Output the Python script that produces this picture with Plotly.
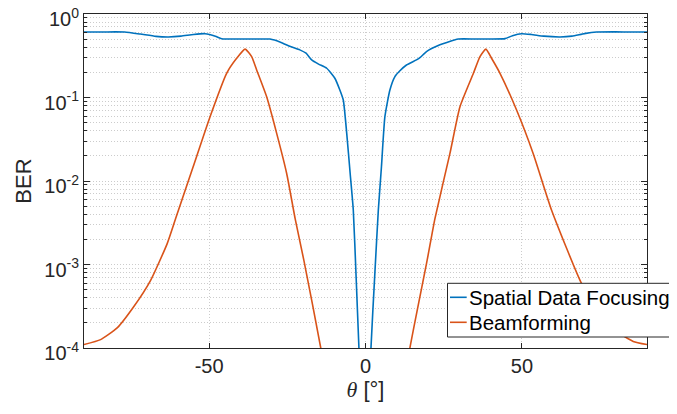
import plotly.graph_objects as go

# ---------------- data ----------------
sdf_theta = [-90, -85, -80, -77, -72, -67, -63, -59, -55, -51.3, -48, -46, -40, -35, -30.5,
             -27, -24, -21, -19, -17.2, -15, -12.4, -9.8, -8.2, -7.1, -6.0, -4.9, -3.9, -3.0,
             -2.1, -1, 0, 1, 1.75, 3.0, 4.1, 5.1, 6.2, 7.8, 9.4, 11, 13.1, 16.3, 17.5, 19.5,
             23.8, 26, 29.7, 35, 40, 44.6, 47, 49.9, 53, 57, 62.2, 66, 70, 73.9, 80, 85, 90]
sdf_ber = [0.608, 0.608, 0.611, 0.608, 0.575, 0.540, 0.531, 0.543, 0.569, 0.581, 0.543, 0.506,
           0.501, 0.501, 0.501, 0.457, 0.407, 0.372, 0.339, 0.282, 0.251, 0.224, 0.170, 0.123,
           0.0933, 0.0372, 0.0123, 0.00447, 0.000708, 1.0e-4, 1.0e-5, 1.0e-6, 1.0e-5, 1.0e-4,
           0.000794, 0.00447, 0.0148, 0.0589, 0.123, 0.178, 0.209, 0.245, 0.282, 0.302, 0.355,
           0.427, 0.457, 0.501, 0.501, 0.501, 0.507, 0.550, 0.581, 0.569, 0.543, 0.531, 0.543,
           0.582, 0.608, 0.611, 0.608, 0.608]

bf_theta = [-90, -84.7, -79.4, -74.0, -68.7, -63.4, -60.7, -55.1, -49.7, -44.4, -41.2, -38.5,
            -36.4, -34.8, -31.6, -28.4, -25.2, -22.5, -19.7, -14.3, -10, 0, 10, 14.2, 19.7,
            22.2, 27.0, 30.2, 34.5, 36.6, 38.5, 40.3, 43.0, 48.3, 53.6, 59.5, 69.1, 75.0, 80.3,
            85.6, 90]
bf_ber = [1.10e-4, 1.26e-4, 1.74e-4, 3.16e-4, 6.46e-4, 1.78e-3, 3.55e-3, 0.0148, 0.0589, 0.195,
          0.295, 0.380, 0.309, 0.214, 0.102, 0.0372, 0.0123, 3.55e-3, 1.12e-3, 1.0e-4, 1.0e-5,
          1.0e-7, 1.0e-5, 1.0e-4, 1.12e-3, 3.55e-3, 0.0214, 0.0776, 0.195, 0.309, 0.380, 0.295,
          0.195, 0.0708, 0.0214, 4.47e-3, 5.89e-4, 2.63e-4, 1.58e-4, 1.20e-4, 1.10e-4]

series_names = ["Spatial Data Focusing", "Beamforming"]
x_ticks = [-50, 0, 50]
x_ticklabels = ["-50", "0", "50"]
y_ticks = [1e-4, 1e-3, 1e-2, 1e-1, 1]
y_ticklabels = ["10<sup>-4</sup>", "10<sup>-3</sup>", "10<sup>-2</sup>", "10<sup>-1</sup>", "10<sup>0</sup>"]

# ---------------- styles ----------------
BLUE = "#0072BD"
ORANGE = "#D95319"
AX = "#262626"
GRID = "#cccccc"
FONT = "Liberation Sans, Arial, Helvetica, sans-serif"

# The page body adds an 8 px offset, so the figure's own margins are reduced by 8 px.
OFF = 8
PL, PR, PT, PB = 84 - OFF, 647 - OFF, 14 - OFF, 348 - OFF   # plot-area edges in figure px
W, H = 677, 414

minor_y = [m * 10.0 ** e for e in range(-4, 0) for m in range(2, 10)]

fig = go.Figure()
fig.add_trace(go.Scatter(x=sdf_theta, y=sdf_ber, mode="lines", name=series_names[0],
                         line=dict(color=BLUE, width=1.6, shape="spline", smoothing=0.5),
                         showlegend=False))
fig.add_trace(go.Scatter(x=bf_theta, y=bf_ber, mode="lines", name=series_names[1],
                         line=dict(color=ORANGE, width=1.6, shape="spline", smoothing=0.5),
                         showlegend=False))

fig.update_layout(
    width=W, height=H,
    margin=dict(l=PL, r=W - PR, t=PT, b=H - PB, pad=0),
    paper_bgcolor="white", plot_bgcolor="white",
    font=dict(family=FONT, size=20, color=AX),
    xaxis=dict(
        range=[-90, 90], tickmode="array", tickvals=x_ticks, ticktext=x_ticklabels,
        ticks="inside", ticklen=5, tickcolor=AX, tickwidth=1,
        showline=True, linecolor=AX, linewidth=1, mirror="ticks",
        showgrid=True, gridcolor=GRID, griddash="1px,2px", gridwidth=1,
        zeroline=False, automargin=False,
        tickfont=dict(size=20, color=AX),
        title=dict(text='<span style="font-family:Liberation Serif"><i>θ</i></span> [°]',
                   font=dict(size=22, color=AX), standoff=4),
    ),
    yaxis=dict(
        type="log", range=[-4, 0], tickmode="array", tickvals=y_ticks, ticktext=y_ticklabels,
        ticks="inside", ticklen=6, tickcolor=AX, tickwidth=1,
        showline=True, linecolor=AX, linewidth=1, mirror="ticks",
        showgrid=True, gridcolor=GRID, griddash="1px,2px", gridwidth=1,
        zeroline=False, automargin=False, ticklabeloverflow="allow",
        ticklabelshift=5,
        tickfont=dict(size=20, color=AX),
        minor=dict(tickmode="array", tickvals=minor_y, ticks="inside", ticklen=3,
                   tickcolor=AX, tickwidth=1, showgrid=True, gridcolor=GRID,
                   griddash="1px,2px", gridwidth=1),
        title=dict(text="BER", font=dict(size=22, color=AX), standoff=6),
    ),
)

# ---------------- legend (MATLAB style box, lower right) ----------------
# positions given in reference-window pixels, converted to paper fractions
def fx(p):
    return (p - OFF - PL) / (PR - PL)
def fy(p):
    return (PB - (p - OFF)) / (PB - PT)

fig.add_shape(type="rect", xref="paper", yref="paper",
              x0=fx(447.5), x1=fx(675.5), y0=fy(337.0), y1=fy(283.3),
              line=dict(color=AX, width=1), fillcolor="white", layer="above")
for name, col, ypix in [(series_names[0], BLUE, 297.3), (series_names[1], ORANGE, 322.3)]:
    fig.add_shape(type="line", xref="paper", yref="paper",
                  x0=fx(450), x1=fx(466.7), y0=fy(ypix), y1=fy(ypix),
                  line=dict(color=col, width=1.6), layer="above")
    fig.add_annotation(xref="paper", yref="paper", x=fx(466.5), y=fy(ypix),
                       xanchor="left", yanchor="middle", text=name, showarrow=False,
                       font=dict(family=FONT, size=20.5, color="black"))

fig.write_html("out.html")
